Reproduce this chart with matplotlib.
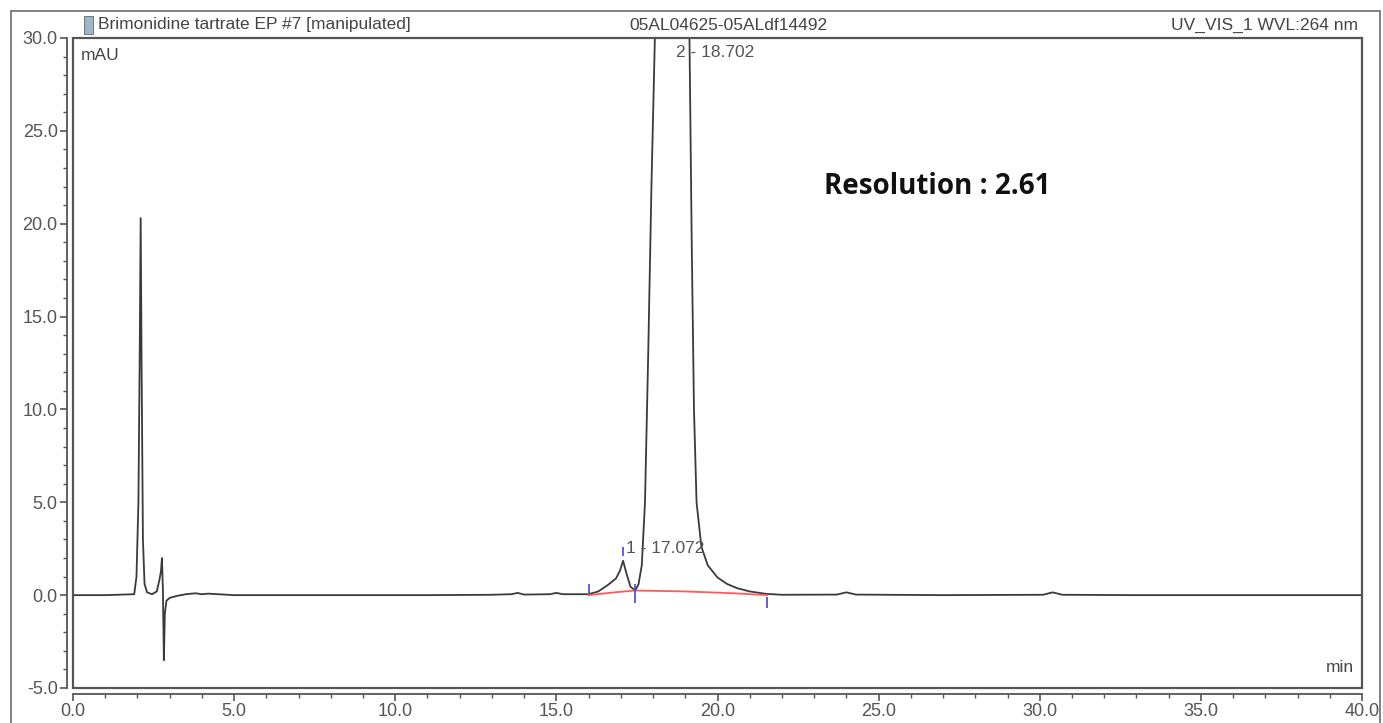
import matplotlib
matplotlib.use('Agg')
import matplotlib.pyplot as plt
from matplotlib.patches import Rectangle
from matplotlib.ticker import MultipleLocator, FormatStrFormatter

# Chromatogram trace (time in min, signal in mAU)
time = [0.0, 1.0, 1.9, 1.97, 2.03, 2.07, 2.1, 2.13, 2.17, 2.22, 2.3, 2.45, 2.6, 2.68,
        2.73, 2.76, 2.79, 2.82, 2.85, 2.9, 3.0, 3.2, 3.5, 3.8, 4.0, 4.2, 5.0, 7.0,
        9.0, 11.0, 13.0, 13.6, 13.8, 14.0, 14.8, 15.0, 15.2, 15.7, 16.0, 16.3, 16.6,
        16.85, 16.97, 17.07, 17.17, 17.3, 17.45, 17.55, 17.65, 17.75, 17.85, 17.95,
        18.07, 18.3, 18.7, 19.0, 19.13, 19.2, 19.27, 19.35, 19.5, 19.7, 20.0, 20.3,
        20.6, 21.0, 21.5, 22.0, 23.7, 24.0, 24.3, 27.0, 30.1, 30.4, 30.7, 33.0, 36.0,
        40.0]
signal = [0.0, 0.0, 0.05, 1.0, 5.0, 13.0, 20.3, 12.0, 3.0, 0.6, 0.15, 0.05, 0.2, 0.8,
          1.3, 2.0, 0.3, -3.5, -1.0, -0.3, -0.15, -0.05, 0.05, 0.1, 0.05, 0.08, 0.0, 0.0,
          0.0, 0.0, 0.02, 0.05, 0.12, 0.03, 0.05, 0.12, 0.05, 0.05, 0.05, 0.2, 0.55,
          0.9, 1.3, 1.85, 1.2, 0.45, 0.25, 0.6, 1.6, 5.0, 13.0, 22.0,
          31.0, 200.0, 600.0, 200.0, 30.0, 19.0, 10.0, 5.0, 2.6, 1.6, 0.95, 0.6,
          0.38, 0.2, 0.07, 0.02, 0.03, 0.15, 0.03, 0.0, 0.02, 0.15, 0.02, 0.0, 0.0,
          0.0]

# integration baseline under peaks 1 and 2
base_time = [16.0, 16.8, 17.45, 19.0, 20.5, 21.55]
base_signal = [0.0, 0.15, 0.25, 0.2, 0.1, 0.0]

# integration marks (time, low, high)
mark_time = [16.0, 17.07, 17.45, 21.55]
mark_low = [0.1, 2.1, -0.4, -0.7]
mark_high = [0.6, 2.6, 0.6, -0.1]

peak_labels = ['1 - 17.072', '2 - 18.702']
peak_label_x = [17.15, 18.71]
peak_label_y = [2.5, 29.2]

plt.rcParams['font.family'] = ['Liberation Sans', 'DejaVu Sans']

fig = plt.figure(figsize=(13.83, 7.23), dpi=100)
ax = fig.add_axes([73 / 1383, 1 - 688 / 723, (1362 - 73) / 1383, (688 - 38) / 723])

ax.plot(time, signal, color='#3a3a3a', linewidth=1.3, zorder=3)
ax.plot(base_time, base_signal, color='#ff5a5a', linewidth=1.3, zorder=4)
ax.vlines(mark_time, mark_low, mark_high, color='#4646d0', linewidth=1.2, zorder=5)

for lab, lx, ly in zip(peak_labels, peak_label_x, peak_label_y):
    ax.text(lx, ly, lab, fontsize=12.5, color='#555555', va='center', ha='left')

ax.set_xlim(0, 40)
ax.set_ylim(-5, 30)
ax.xaxis.set_major_locator(MultipleLocator(5))
ax.xaxis.set_minor_locator(MultipleLocator(1))
ax.yaxis.set_major_locator(MultipleLocator(5))
ax.yaxis.set_minor_locator(MultipleLocator(1))
ax.xaxis.set_major_formatter(FormatStrFormatter('%.1f'))
ax.yaxis.set_major_formatter(FormatStrFormatter('%.1f'))
ax.tick_params(axis='both', which='major', direction='out', length=5, width=1.2,
               labelsize=13, colors='#555555', labelcolor='#555555', pad=2)
ax.tick_params(axis='both', which='minor', direction='out', length=3, width=1.0,
               colors='#555555')

for side in ['top', 'right']:
    ax.spines[side].set_visible(False)
for side in ['left', 'bottom']:
    ax.spines[side].set_position(('outward', 4))
    ax.spines[side].set_color('#555555')
    ax.spines[side].set_linewidth(1.3)

# inner plot box
ax.add_patch(Rectangle((0, 0), 1, 1, transform=ax.transAxes, fill=False,
                       edgecolor='#555555', linewidth=1.6, clip_on=False, zorder=6))

ax.text(0.006, 0.985, 'mAU', transform=ax.transAxes, fontsize=12.5, color='#444444',
        va='top', ha='left')
ax.text(0.994, 0.02, 'min', transform=ax.transAxes, fontsize=12.5, color='#444444',
        va='bottom', ha='right')

ax.text(0.583, 0.771, 'Resolution : 2.61', transform=ax.transAxes, fontsize=20,
        fontweight='bold', family=['Open Sans', 'DejaVu Sans'], color='#111111',
        va='center', ha='left')

# outer frame and header
fig.patches.append(Rectangle((11 / 1383, -0.01), (1380 - 11) / 1383, 1 - 11 / 723 + 0.01,
                             transform=fig.transFigure, fill=False,
                             edgecolor='#777777', linewidth=1.3))
fig.patches.append(Rectangle((84 / 1383, 1 - 34 / 723), 9 / 1383, 18 / 723,
                             transform=fig.transFigure, facecolor='#9fb6c8',
                             edgecolor='#666666', linewidth=0.6))
fig.text(98 / 1383, 1 - 25 / 723, 'Brimonidine tartrate EP #7 [manipulated]',
         fontsize=12.5, color='#444444', va='center', ha='left')
fig.text(728 / 1383, 1 - 25 / 723, '05AL04625-05ALdf14492',
         fontsize=12.5, color='#444444', va='center', ha='center')
fig.text(1358 / 1383, 1 - 25 / 723, 'UV_VIS_1 WVL:264 nm',
         fontsize=12.5, color='#444444', va='center', ha='right')

fig.savefig('out.png', dpi=100)
